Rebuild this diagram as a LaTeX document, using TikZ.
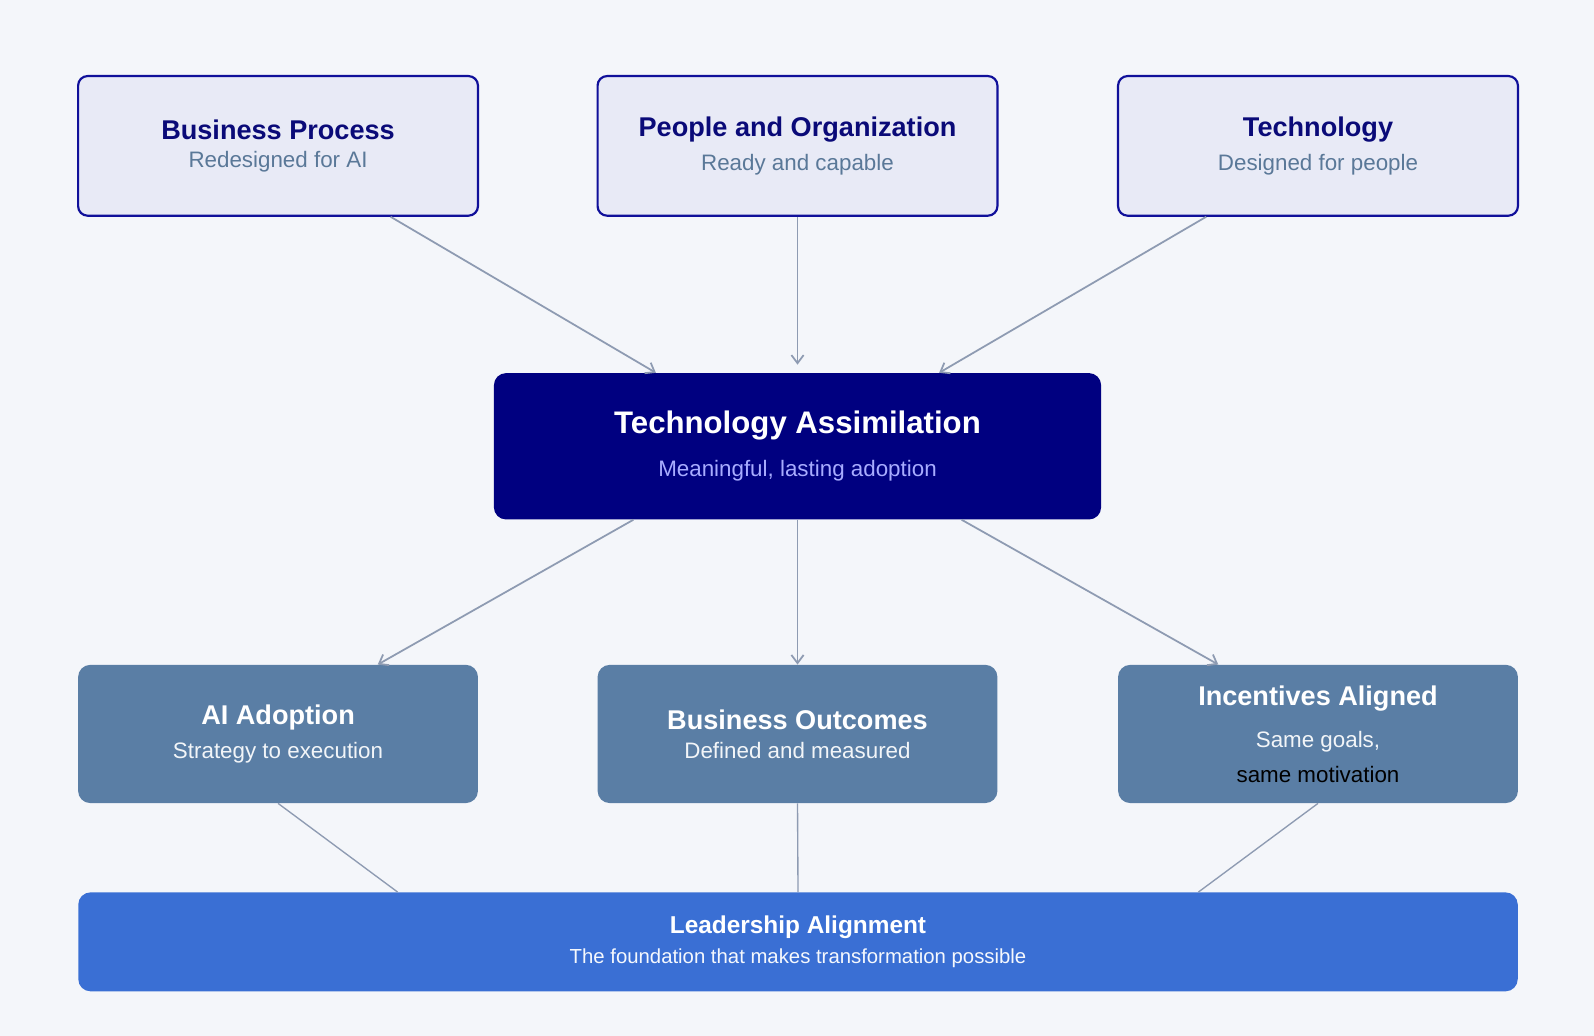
\documentclass[tikz,border=0pt]{standalone}
\usepackage{fontspec}
\setmainfont{Liberation Sans}
\usetikzlibrary{calc,arrows.meta}
\definecolor{bg}{HTML}{F4F6FA}
\definecolor{topfill}{HTML}{E8EAF6}
\definecolor{navy}{HTML}{10109A}
\definecolor{navyt}{HTML}{0A0A78}
\definecolor{subt}{HTML}{5A7898}
\definecolor{center}{HTML}{000080}
\definecolor{centsub}{HTML}{A8ACFF}
\definecolor{steel}{HTML}{5A7EA5}
\definecolor{lead}{HTML}{3A6FD4}
\definecolor{conn}{HTML}{8E9BB2}
\tikzset{
 topbox/.style={draw=navy,line width=1.6pt,fill=topfill,rounded corners=7pt,minimum width=295pt,minimum height=103pt,align=center,inner sep=0pt},
 midbox/.style={fill=center,rounded corners=9pt,minimum width=448pt,minimum height=108pt,align=center,inner sep=0pt},
 botbox/.style={fill=steel,rounded corners=9pt,minimum width=295pt,minimum height=102pt,align=center,inner sep=0pt},
 leadbox/.style={fill=lead,rounded corners=9pt,minimum width=1062pt,minimum height=73pt,align=center,inner sep=0pt},
 arr/.style={draw=conn,line width=1.3pt,-{Straight Barb[length=6pt,width=9pt]}},
 ln/.style={draw=conn,line width=1pt}
}
\begin{document}
\begin{tikzpicture}[x=0.75pt,y=-0.75pt]
\fill[bg] (0,0) rectangle (1568,1019);
\useasboundingbox (0,0) rectangle (1568,1019);
\node[topbox] (bp) at (273.5,143.5) {{\color{navyt}\bfseries\fontsize{20}{24}\selectfont Business Process}\\[8pt]{\color{subt}\fontsize{16.5}{20}\selectfont Redesigned for AI}};
\node[topbox] (po) at (784.5,143.5) {{\color{navyt}\bfseries\fontsize{20}{24}\selectfont People and Organization}\\[8pt]{\color{subt}\fontsize{16.5}{20}\selectfont Ready and capable}};
\node[topbox] (te) at (1296.5,143.5) {{\color{navyt}\bfseries\fontsize{20}{24}\selectfont Technology}\\[8pt]{\color{subt}\fontsize{16.5}{20}\selectfont Designed for people}};
\node[midbox] (ta) at (784.5,439) {{\color{white}\bfseries\fontsize{23}{27}\selectfont Technology Assimilation}\\[14pt]{\color{centsub}\fontsize{16.5}{20}\selectfont Meaningful, lasting adoption}};
\node[botbox] (ai) at (273.5,722) {{\color{white}\bfseries\fontsize{20}{24}\selectfont AI Adoption}\\[8pt]{\color{white!92!steel}\fontsize{16.5}{20}\selectfont Strategy to execution}};
\node[botbox] (bo) at (784.5,722) {{\color{white}\bfseries\fontsize{20}{24}\selectfont Business Outcomes}\\[8pt]{\color{white!92!steel}\fontsize{16.5}{20}\selectfont Defined and measured}};
\node[botbox,font=\fontsize{16.5}{26}\selectfont] (ia) at (1296.5,722) {{\color{white}\bfseries\fontsize{20}{24}\selectfont Incentives Aligned}\\[5pt]\color{white!92!steel}Same goals,\\same motivation};
\node[leadbox] (la) at (785,926.5) {{\color{white}\bfseries\fontsize{18}{22}\selectfont Leadership Alignment}\\[6pt]{\color{white!95!lead}\fontsize{15}{18}\selectfont The foundation that makes transformation possible}};
% arrows
\draw[arr] ($(bp.south west)!0.78!(bp.south east)$) -- ($(ta.north west)!0.267!(ta.north east)$);
\draw[arr] (po.south) -- ($(ta.north)+(0,-8)$);
\draw[arr] ($(te.south west)!0.222!(te.south east)$) -- ($(ta.north west)!0.733!(ta.north east)$);
\draw[arr] ($(ta.south west)!0.23!(ta.south east)$) -- ($(ai.north west)!0.749!(ai.north east)$);
\draw[arr] (ta.south) -- (bo.north);
\draw[arr] ($(ta.south west)!0.77!(ta.south east)$) -- ($(ia.north west)!0.251!(ia.north east)$);
\draw[ln] (ai.south) -- ($(la.north west)!0.222!(la.north east)$);
\draw[ln] (bo.south) -- (la.north);
\draw[ln] (ia.south) -- ($(la.north west)!0.778!(la.north east)$);
\end{tikzpicture}
\end{document}
